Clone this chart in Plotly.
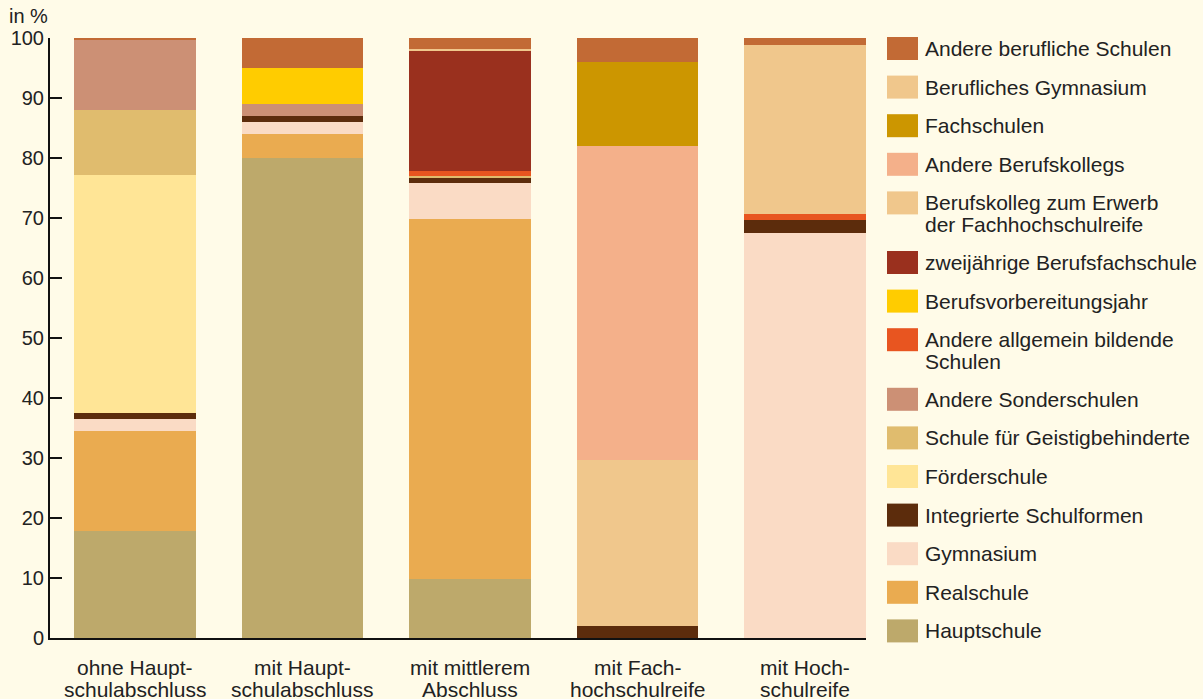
import plotly.graph_objects as go

categories = ["ohne Haupt-\nschulabschluss", "mit Haupt-\nschulabschluss", "mit mittlerem\nAbschluss",
              "mit Fach-\nhochschulreife", "mit Hoch-\nschulreife"]

# series listed bottom -> top of stack
series_names = [
    "Hauptschule", "Realschule", "Gymnasium", "Integrierte Schulformen", "Förderschule",
    "Schule für Geistigbehinderte", "Andere Sonderschulen", "Andere allgemein bildende\nSchulen",
    "Berufsvorbereitungsjahr", "zweijährige Berufsfachschule",
    "Berufskolleg zum Erwerb\nder Fachhochschulreife", "Andere Berufskollegs", "Fachschulen",
    "Berufliches Gymnasium", "Andere berufliche Schulen",
]

hauptschule = [17.8, 80.0, 9.8, 0, 0]
realschule = [16.7, 4.0, 60.0, 0, 0]
gymnasium = [2.0, 2.0, 6.0, 0, 67.5]
integrierte = [1.0, 1.0, 1.0, 2.0, 2.2]
foerderschule = [39.7, 0, 0, 0, 0]
geistigbehinderte = [10.8, 0, 0.2, 0, 0]
andere_sonderschulen = [11.7, 2.0, 0, 0, 0]
andere_allgemein = [0, 0, 0.8, 0, 1.0]
berufsvorbereitung = [0, 6.0, 0, 0, 0]
zweijaehrige = [0, 0, 20.1, 0, 0]
berufskolleg_fhr = [0, 0, 0.2, 27.7, 0]
andere_berufskollegs = [0, 0, 0, 52.3, 0]
fachschulen = [0, 0, 0, 14.0, 0]
berufl_gymnasium = [0, 0, 0, 0, 28.1]
andere_berufliche = [0.3, 5.0, 1.9, 4.0, 1.2]

series_values = [hauptschule, realschule, gymnasium, integrierte, foerderschule, geistigbehinderte,
                 andere_sonderschulen, andere_allgemein, berufsvorbereitung, zweijaehrige,
                 berufskolleg_fhr, andere_berufskollegs, fachschulen, berufl_gymnasium, andere_berufliche]

colors = ["#BDA96B", "#EAAB50", "#FADBC5", "#5C2C0C", "#FFE596", "#E0BC6E", "#CC9075", "#E85520",
          "#FFCC00", "#9A301E", "#F0C78C", "#F4B08A", "#CC9600", "#F0C78C", "#C26A35"]

y_ticks = [0, 10, 20, 30, 40, 50, 60, 70, 80, 90, 100]

BG = "#FFFBE8"
TXT = "#222222"
FONT = "Liberation Sans, Arial, sans-serif"

fig = go.Figure()
xs = list(range(len(categories)))
for name, vals, col in zip(series_names, series_values, colors):
    fig.add_trace(go.Bar(x=xs, y=vals, name=name.replace("\n", " "), marker_color=col,
                         marker_line_width=0, showlegend=False))

W, H = 1203, 699
L, R, T, B = 50, 337, 38, 61

fig.update_layout(
    width=W, height=H, barmode="stack", bargap=0.275,
    paper_bgcolor=BG, plot_bgcolor=BG,
    margin=dict(l=L, r=R, t=T, b=B),
    font=dict(family=FONT, color=TXT, size=20),
    xaxis=dict(range=[-0.506, 4.363], showticklabels=False, ticks="", showgrid=False,
               zeroline=False, showline=True, linecolor="#111", linewidth=2),
    yaxis=dict(range=[0, 100], tickvals=y_ticks, ticks="inside", ticklen=12, tickwidth=2,
               tickcolor="#111", showgrid=False, zeroline=False, showline=True,
               linecolor="#111", linewidth=2, tickfont=dict(size=20, color=TXT)),
)

pw = W - L - R
ph = H - T - B
def px_x(x):
    return (x - L) / pw
def px_y(y):
    return 1 - (y - T) / ph

annotations = []
# "in %" label
annotations.append(dict(text="in %", xref="paper", yref="paper", x=px_x(7), y=px_y(16),
                        xanchor="left", yanchor="middle", showarrow=False,
                        font=dict(size=20, color=TXT)))
# category labels (two lines each)
for i, cat in enumerate(categories):
    for j, line in enumerate(cat.split("\n")):
        annotations.append(dict(text=line, xref="x", yref="paper", x=i,
                                y=px_y(667 + 22 * j), xanchor="center", yanchor="middle",
                                showarrow=False, font=dict(size=21, color=TXT)))

# manual legend (top -> bottom = reversed stack order)
shapes = []
y = 37
for name, col in zip(reversed(series_names), reversed(colors)):
    lines = name.split("\n")
    shapes.append(dict(type="rect", xref="paper", yref="paper", x0=px_x(887), x1=px_x(918),
                       y0=px_y(y), y1=px_y(y + 23), fillcolor=col, line_width=0))
    for k, line in enumerate(lines):
        annotations.append(dict(text=line, xref="paper", yref="paper", x=px_x(923),
                                y=px_y(y + 11.5 + 21.5 * k), xanchor="left", yanchor="middle",
                                showarrow=False, font=dict(size=21, color=TXT)))
    y += 38.6 + 21 * (len(lines) - 1)

fig.update_layout(annotations=annotations, shapes=shapes)
fig.write_html("out.html")
